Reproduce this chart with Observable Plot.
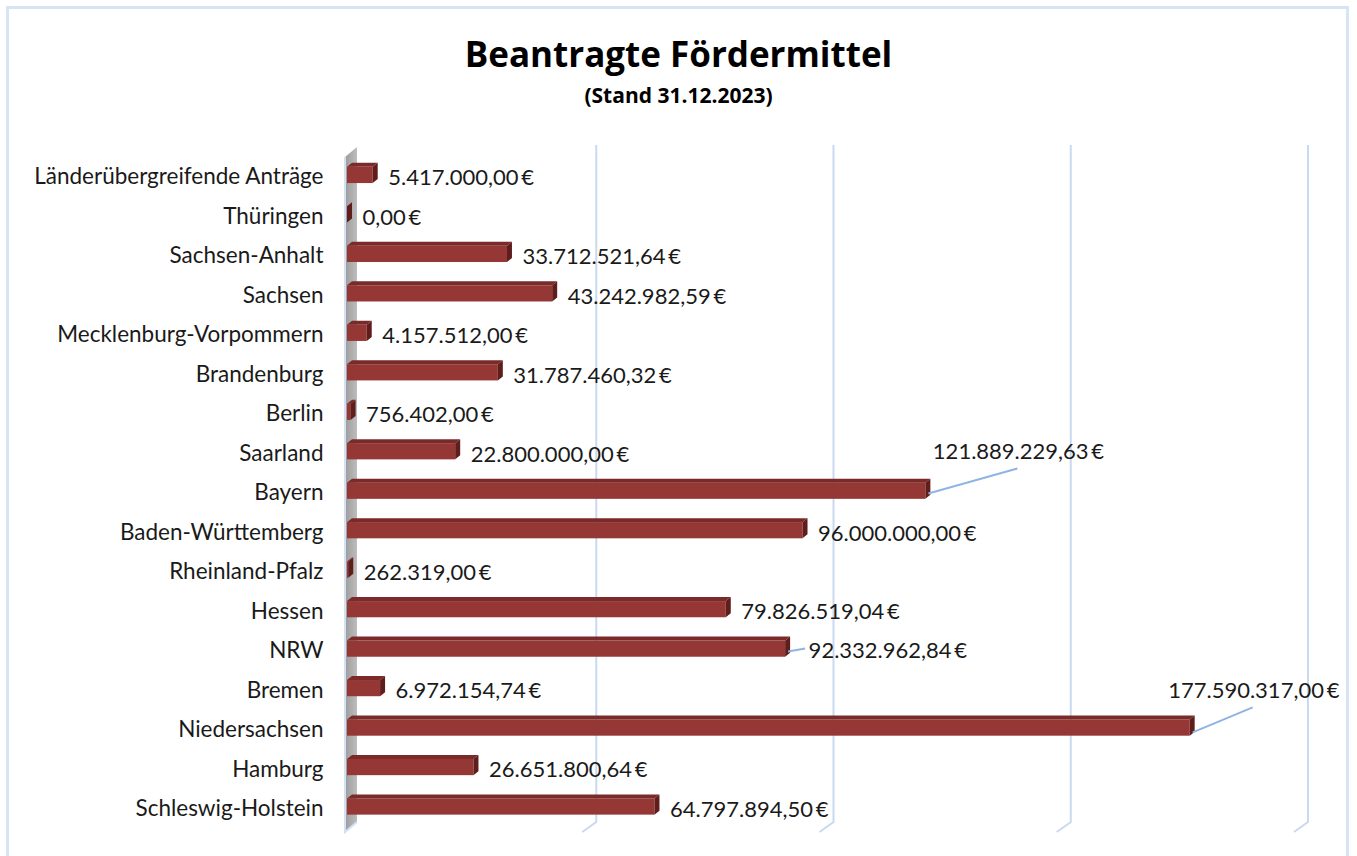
<!DOCTYPE html>
<html>
<head>
<meta charset="utf-8">
<script src="https://cdn.jsdelivr.net/npm/d3@7"></script>
<script src="https://cdn.jsdelivr.net/npm/@observablehq/plot@0.6"></script>
<style>
  html, body { margin: 0; padding: 0; background: #ffffff; }
  body { width: 1357px; height: 856px; position: relative; overflow: hidden; font-family: Lato, "Open Sans", sans-serif; color: #111; }
  #frame { position: absolute; left: 6px; top: 6px; width: 1337px; height: 900px; border: 3px solid #d6e4f5; border-bottom: none; }
  #title { position: absolute; left: 0; top: 30px; width: 1357px; text-align: center; font-family: "Open Sans", sans-serif; font-size: 35px; line-height: normal; font-weight: 700; color: #000; }
  #subtitle { position: absolute; left: 0; top: 81px; width: 1357px; text-align: center; font-family: "Open Sans", sans-serif; font-size: 21px; line-height: normal; font-weight: 700; color: #000; }
  #chart { position: absolute; left: 0; top: 140px; }
</style>
</head>
<body>
<div id="frame"></div>
<div id="title">Beantragte Fördermittel</div>
<div id="subtitle">(Stand 31.12.2023)</div>
<div id="chart"></div>
<script>
// ---- data (bottom to top, as drawn) ----
const states = [
  "Schleswig-Holstein", "Hamburg", "Niedersachsen", "Bremen", "NRW", "Hessen",
  "Rheinland-Pfalz", "Baden-Württemberg", "Bayern", "Saarland", "Berlin",
  "Brandenburg", "Mecklenburg-Vorpommern", "Sachsen", "Sachsen-Anhalt",
  "Thüringen", "Länderübergreifende Anträge"
];
const amounts = [
  64797894.50, 26651800.64, 177590317.00, 6972154.74, 92332962.84, 79826519.04,
  262319.00, 96000000.00, 121889229.63, 22800000.00, 756402.00,
  31787460.32, 4157512.00, 43242982.59, 33712521.64,
  0.00, 5417000.00
];
const gridValues = [50e6, 100e6, 150e6, 200e6];

// ---- helpers ----
const de = d3.formatLocale({decimal: ",", thousands: ".", grouping: [3], currency: ["", " €"]});
const fmt = v => de.format(",.2f")(v) + "\u2009€";
const data = states.map((s, i) => ({state: s, i, value: amounts[i]}));

const BX = 12, BY = 10;   // wall depth (px)
const DX = 5, DY = 4;     // bar depth (px)
const barLo = -0.16, barHi = 0.25;

const callouts = {
  "Bayern": {dx: 7, dy: -41, line: [3, 1, 92, -24]},
  "Niedersachsen": {dx: -22, dy: -39, line: [3, 3, 63, -22]},
  "NRW": {dx: 23, dy: 0, line: [3, 1, 20, -2]}
};

function wallMark(index, {x, y}) {
  const x0 = x(0) - 2, yb = y(-0.6), yt = y(16.5);
  const g = d3.create("svg:g");
  const grad = g.append("defs").append("linearGradient").attr("id", "wallgrad").attr("x1", "0").attr("x2", "1");
  grad.append("stop").attr("offset", "0").attr("stop-color", "#9c9c9c");
  grad.append("stop").attr("offset", "1").attr("stop-color", "#bdbdbd");
  g.append("path")
    .attr("d", `M${x0},${yt} L${x0 + BX},${yt - BY} L${x0 + BX},${yb - BY} L${x0},${yb} Z`)
    .attr("fill", "url(#wallgrad)");
  g.append("path")
    .attr("d", `M${x0},${yt} L${x0},${yb} L${x0 + BX},${yb - BY}`)
    .attr("fill", "none").attr("stroke", "#d3e1f3").attr("stroke-width", 2);
  return g.node();
}

function gridMark(index, {x, y}) {
  const yb = y(-0.6), yt = y(16.5);
  const g = d3.create("svg:g").attr("fill", "none").attr("stroke", "#c9daf0").attr("stroke-width", 2);
  for (const v of gridValues) {
    const xb = x(v) + BX;
    g.append("path").attr("d", `M${xb},${yt - BY - 2} L${xb},${yb - BY} L${xb - 14},${yb}`);
  }
  return g.node();
}

function faceMark(index, {x, y}) {
  const g = d3.create("svg:g");
  const x0 = x(0);
  for (const d of data) {
    const xv = x(d.value), yT = y(d.i + barHi), yB = y(d.i + barLo);
    g.append("path")
      .attr("d", `M${x0},${yT} L${xv},${yT} L${xv + DX},${yT - DY} L${x0 + DX},${yT - DY} Z`)
      .attr("fill", "#7a2a28");
    g.append("path")
      .attr("d", `M${xv},${yT} L${xv + DX},${yT - DY} L${xv + DX},${yB - DY} L${xv},${yB} Z`)
      .attr("fill", "#5f1d1c");
  }
  return g.node();
}

function leaderMark(index, {x, y}) {
  const g = d3.create("svg:g").attr("stroke", "#8fb4e3").attr("stroke-width", 2).attr("fill", "none");
  for (const d of data) {
    const c = callouts[d.state];
    if (!c) continue;
    const xv = x(d.value), yc = y(d.i);
    const [a, b, p, q] = c.line;
    g.append("line").attr("x1", xv + a).attr("y1", yc + b).attr("x2", xv + p).attr("y2", yc + q);
  }
  return g.node();
}

const labelFont = {fontSize: 22, fill: "#1a1a1a", fontFamily: "Lato, sans-serif"};

const marks = [
  wallMark,
  gridMark,
  Plot.rect(data, {x1: 0, x2: "value", y1: d => d.i + barLo, y2: d => d.i + barHi, fill: "#953735"}),
  faceMark,
  leaderMark,
  Plot.axisY({ticks: d3.range(states.length), tickFormat: i => states[i], tickSize: 0, tickPadding: 24, fontSize: 22.5, color: "#1a1a1a", label: null}),
  Plot.text(data.filter(d => !callouts[d.state]), {x: "value", y: "i", text: d => fmt(d.value), textAnchor: "start", dx: 15, dy: 1, ...labelFont})
];
for (const [name, c] of Object.entries(callouts)) {
  marks.push(Plot.text(data.filter(d => d.state === name), {x: "value", y: "i", text: d => fmt(d.value), textAnchor: "start", dx: c.dx, dy: c.dy, ...labelFont}));
}

const chart = Plot.plot({
  width: 1357,
  height: 716,
  marginLeft: 347,
  marginRight: 61,
  marginTop: 17,
  marginBottom: 24,
  x: {domain: [0, 200e6], axis: null},
  y: {domain: [-0.6, 16.5], axis: null},
  style: {fontFamily: "Lato, sans-serif", background: "transparent", overflow: "visible"},
  marks
});
document.getElementById("chart").appendChild(chart);
</script>
</body>
</html>
